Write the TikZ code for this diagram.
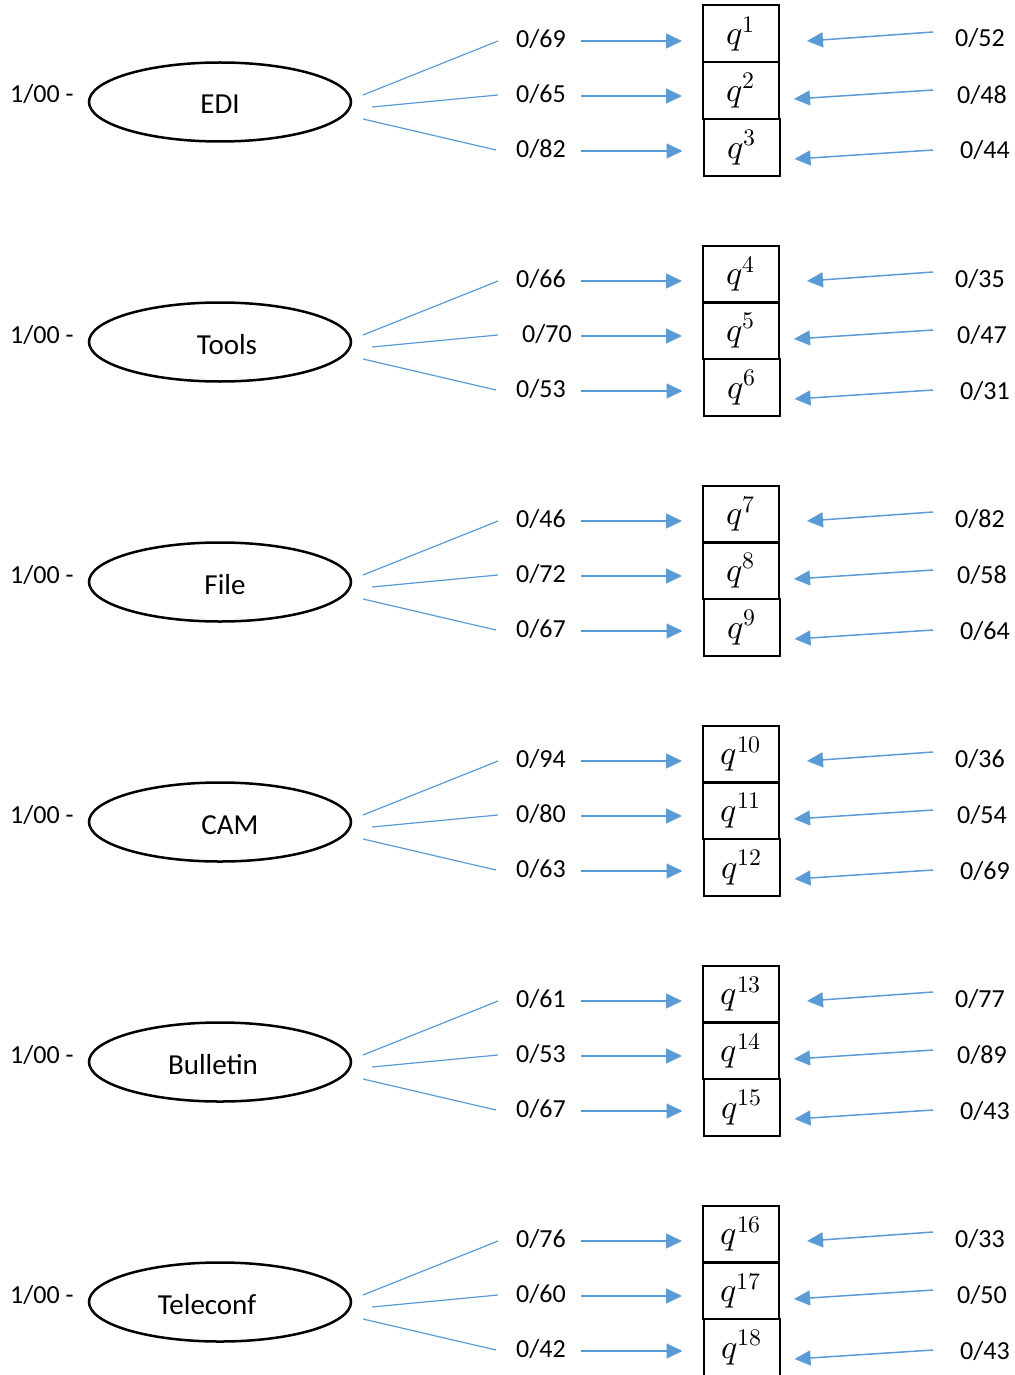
\documentclass[tikz,border=0pt]{standalone}
\usepackage{fontspec}
\usepackage{unicode-math}
\setmainfont{Carlito}
\setmathfont{Latin Modern Math}
\usetikzlibrary{shapes.geometric,arrows.meta,calc}
\definecolor{linkblue}{HTML}{5B9BD5}
\newcommand{\qsym}[1]{\raisebox{-2.5pt}{$q^{#1}$}}
\begin{document}
\begin{tikzpicture}[x=1pt,y=-1pt,
  num/.style={font=\fontsize{26}{30}\selectfont, inner sep=0pt, anchor=base},
  topic/.style={draw, line width=2.5pt, ellipse, minimum width=262pt, minimum height=79pt, inner sep=0pt},
  topictext/.style={font=\fontsize{29}{34}\selectfont, inner sep=0pt, anchor=base},
  qbox/.style={draw, line width=2pt, minimum width=76pt, minimum height=57pt, inner sep=0pt, font=\fontsize{34}{40}\selectfont},
  fan/.style={draw=linkblue, line width=1.2pt},
  feed/.style={draw=linkblue, line width=1.5pt, -{Triangle[length=16pt,width=15pt]}},
]
\useasboundingbox (0,0) rectangle (1014,1375);

% one block per topic: ellipse, three weights fanning out, three boxes, three incoming weights
\foreach \k/\tname/\tx/\lbx/\la/\lb/\lc/\ra/\rb/\rc in {
  0/EDI/220/541/69/65/82/52/48/44,
  1/Tools/227/547/66/70/53/35/47/31,
  2/File/225/541/46/72/67/82/58/64,
  3/CAM/230/541/94/80/63/36/54/69,
  4/Bulletin/213/541/61/53/67/77/89/43,
  5/Teleconf/207/541/76/60/42/33/50/43}{
  \pgfmathsetmacro{\dy}{240*\k}
  \pgfmathtruncatemacro{\qa}{3*\k+1}
  \pgfmathtruncatemacro{\qb}{3*\k+2}
  \pgfmathtruncatemacro{\qc}{3*\k+3}
  \begin{scope}[shift={(0,\dy)}]
    % topic ellipse and its weight
    \node[topic] (e\k) at (220,102) {};
    \node[topictext] (t\k) at (\tx,114) {\tname};
    \node[num, anchor=base west] (w\k) at (10,103) {1/00 -};

    % fan lines from the ellipse towards the left weights
    \coordinate (fa\k) at ($(e\k.center)+(143,-7)$);
    \coordinate (fb\k) at ($(e\k.center)+(152,5)$);
    \coordinate (fc\k) at ($(e\k.center)+(143,17)$);
    \coordinate (ga\k) at (498,41);
    \coordinate (gb\k) at (498,95);
    \coordinate (gc\k) at (496,150);
    \draw[fan] (fa\k) -- (ga\k);
    \draw[fan] (fb\k) -- (gb\k);
    \draw[fan] (fc\k) -- (gc\k);

    % left weights
    \node[num] (la\k) at (541,47.5) {0/\la};
    \node[num] (lb\k) at (\lbx,102.5) {0/\lb};
    \node[num] (lc\k) at (541,157.5) {0/\lc};

    % boxes
    \node[qbox] (qa\k) at (741,34) {\qsym{\qa}};
    \node[qbox] (qb\k) at (741,90.5) {\qsym{\qb}};
    \node[qbox] (qc\k) at (741.5,147.5) {\qsym{\qc}};

    % arrows from the left weights into the boxes
    \coordinate (sa\k) at (581,41);
    \coordinate (sb\k) at (581,96);
    \coordinate (sc\k) at (581,151);
    \draw[feed, shorten >=20pt] (sa\k) -- (qa\k.west |- sa\k);
    \draw[feed, shorten >=20pt] (sb\k) -- (qb\k.west |- sb\k);
    \draw[feed, shorten >=20pt] (sc\k) -- (qc\k.west |- sc\k);

    % right weights
    \node[num] (ra\k) at (980,47) {0/\ra};
    \node[num] (rb\k) at (982,103.5) {0/\rb};
    \node[num] (rc\k) at (985,159) {0/\rc};

    % arrows from the right weights into the boxes
    \coordinate (ua\k) at (933,32);
    \coordinate (ub\k) at (933,90);
    \coordinate (uc\k) at (933,150);
    \coordinate (va\k) at ($(qa\k.east)+(27,7)$);
    \coordinate (vb\k) at ($(qb\k.east)+(14,8.5)$);
    \coordinate (vc\k) at ($(qc\k.east)+(14,11.5)$);
    \draw[feed] (ua\k) -- (va\k);
    \draw[feed] (ub\k) -- (vb\k);
    \draw[feed] (uc\k) -- (vc\k);
  \end{scope}
}
\end{tikzpicture}
\end{document}
